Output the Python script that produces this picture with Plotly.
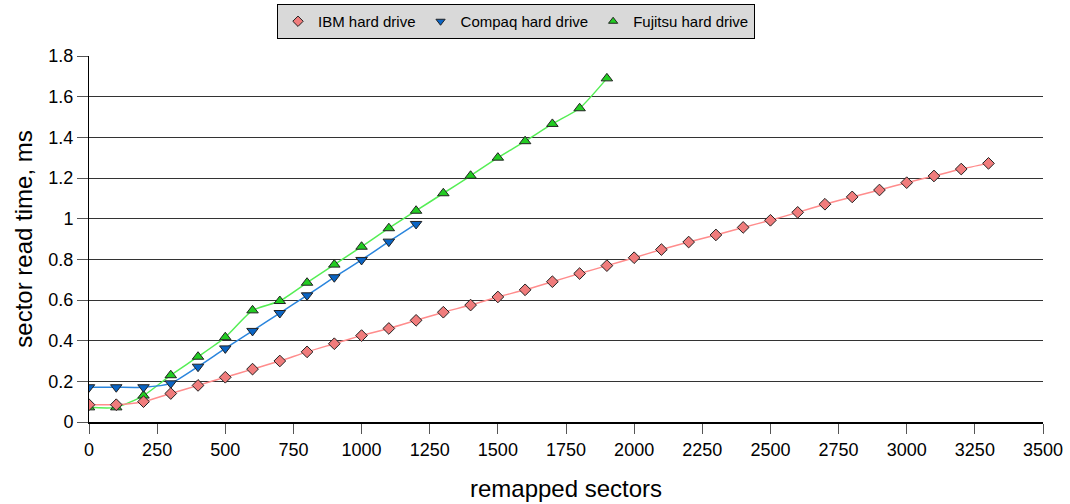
import plotly.graph_objects as go

ibm_x = list(range(0, 3400, 100))
ibm_y = [0.085, 0.085, 0.10, 0.14, 0.18, 0.22, 0.26, 0.30, 0.345, 0.385,
         0.425, 0.46, 0.50, 0.54, 0.575, 0.615, 0.65, 0.69, 0.73, 0.769,
         0.808, 0.848, 0.885, 0.92, 0.957, 0.992, 1.031, 1.071, 1.107, 1.141,
         1.177, 1.21, 1.244, 1.272]

compaq_x = list(range(0, 1300, 100))
compaq_y = [0.171, 0.171, 0.171, 0.19, 0.272, 0.362, 0.448, 0.536, 0.623,
            0.712, 0.797, 0.887, 0.974]

fujitsu_x = list(range(0, 2000, 100))
fujitsu_y = [0.072, 0.072, 0.13, 0.23, 0.321, 0.417, 0.549, 0.595, 0.685,
             0.774, 0.862, 0.953, 1.039, 1.125, 1.211, 1.30, 1.381, 1.466,
             1.543, 1.69]

x_ticks = list(range(0, 3750, 250))
y_ticks = [0, 0.2, 0.4, 0.6, 0.8, 1.0, 1.2, 1.4, 1.6, 1.8]
y_ticklabels = ["0", "0.2", "0.4", "0.6", "0.8", "1", "1.2", "1.4", "1.6", "1.8"]

FONT = "Liberation Sans, Arial, sans-serif"

series = [
    ("Fujitsu hard drive", fujitsu_x, fujitsu_y, "#55ee55", "triangle-up", 10, "#22cc22"),
    ("Compaq hard drive", compaq_x, compaq_y, "#2a85dd", "triangle-down", 10, "#0a64c4"),
    ("IBM hard drive", ibm_x, ibm_y, "#ff8c8c", "diamond", 9, "#f07c7c"),
]

fig = go.Figure()
for name, xs, ys, lc, sym, sz, fc in series:
    fig.add_trace(go.Scatter(
        x=xs, y=ys, name=name, mode="lines+markers", showlegend=False,
        line=dict(color=lc, width=1.5, shape="spline", smoothing=0.6),
        marker=dict(symbol=sym, size=sz, color=fc,
                    line=dict(color="#222222", width=1))))
for name, xs, ys, lc, sym, sz, fc in series:
    fig.add_trace(go.Scatter(
        x=[None], y=[None], name=name, mode="markers", showlegend=True,
        marker=dict(symbol=sym, size=8, color=fc,
                    line=dict(color="#222222", width=1))))

fig.update_layout(
    width=1070, height=504,
    margin=dict(l=89, r=27, t=56, b=82, autoexpand=False),
    paper_bgcolor="white", plot_bgcolor="white",
    font=dict(family=FONT, color="black", size=18),
    showlegend=True,
    legend=dict(
        orientation="h", traceorder="reversed",
        x=(277 - 89) / 954, xanchor="left", y=(422 - 4) / 366, yanchor="top",
        bgcolor="#d9d9d9", bordercolor="black", borderwidth=1,
        font=dict(size=15, family=FONT),
        itemwidth=30,
    ),
    xaxis=dict(
        range=[0, 3500], tickvals=x_ticks, ticks="outside", ticklen=10,
        tickcolor="#555555", showgrid=False, zeroline=False,
        showline=True, linecolor="black", linewidth=2,
        tickfont=dict(size=18), automargin=False,
        title=dict(text="remapped sectors", font=dict(size=24), standoff=22),
    ),
    yaxis=dict(
        range=[0, 1.8], tickvals=y_ticks, ticktext=y_ticklabels,
        ticks="outside", ticklen=11, tickcolor="#555555",
        showgrid=True, gridcolor="#333333", gridwidth=1, zeroline=False,
        showline=True, linecolor="black", linewidth=1,
        tickfont=dict(size=18), automargin=False,
        title=dict(text="sector read time, ms", font=dict(size=24), standoff=8),
    ),
)

fig.write_html("out.html")
